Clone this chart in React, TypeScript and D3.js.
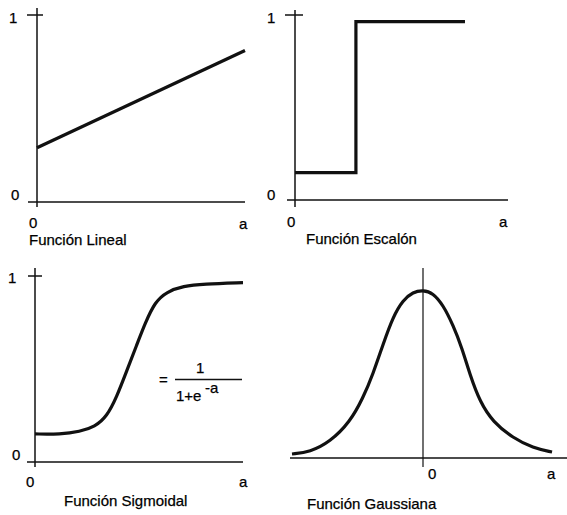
import React from "react";
import * as d3 from "d3";

// Función Lineal
const linealX = [0, 1];
const linealY = [0.29, 0.81];

// Función Escalón (step after)
const escalonX = [0, 0.286, 0.798];
const escalonY = [0.148, 0.964, 0.964];

// Función Sigmoidal
const sigmoidX = [0, 0.12, 0.216, 0.288, 0.345, 0.393, 0.441, 0.489, 0.529, 0.577, 0.633, 0.713, 0.809, 1.0];
const sigmoidY = [0.151, 0.149, 0.163, 0.19, 0.244, 0.35, 0.49, 0.629, 0.745, 0.861, 0.915, 0.946, 0.957, 0.964];

// Función Gaussiana
const gaussX = [-1, -0.863, -0.71, -0.557, -0.458, -0.382, -0.305, -0.229, -0.153, -0.076, 0, 0.076, 0.153, 0.229, 0.298, 0.359, 0.435, 0.534, 0.687, 0.84, 0.985];
const gaussY = [0.022, 0.033, 0.088, 0.198, 0.33, 0.46, 0.625, 0.776, 0.868, 0.912, 0.923, 0.907, 0.841, 0.731, 0.604, 0.456, 0.308, 0.198, 0.11, 0.055, 0.033];

const captions = ["Función Lineal", "Función Escalón", "Función Sigmoidal", "Función Gaussiana"];
const yTickLabels = ["0", "1"];
const xLabels = ["0", "a"];

const FONT = "'Liberation Sans', Arial, sans-serif";
const zip = (xs: number[], ys: number[]) => xs.map((x, i) => [x, ys[i]] as [number, number]);

const Txt = ({ x, y, children, size = 15 }: any) => (
  <text x={x} y={y} fontFamily={FONT} fontSize={size} fill="#000" stroke="#000" strokeWidth={0.25}>
    {children}
  </text>
);

export default function App() {
  // panel scales
  const x1 = d3.scaleLinear().domain([0, 1]).range([37, 245]);
  const y1 = d3.scaleLinear().domain([0, 1]).range([202, 15]);
  const x2 = d3.scaleLinear().domain([0, 1]).range([295, 508]);
  const y2 = d3.scaleLinear().domain([0, 1]).range([200, 15]);
  const x3 = d3.scaleLinear().domain([0, 1]).range([35, 243]);
  const y3 = d3.scaleLinear().domain([0, 1]).range([462, 276]);
  const x4 = d3.scaleLinear().domain([-1, 1]).range([292, 554]);
  const y4 = d3.scaleLinear().domain([0, 1]).range([458, 276]);

  const line1 = d3.line().x((d) => x1(d[0])).y((d) => y1(d[1]));
  const line2 = d3.line().x((d) => x2(d[0])).y((d) => y2(d[1])).curve(d3.curveStepAfter);
  const line3 = d3.line().x((d) => x3(d[0])).y((d) => y3(d[1])).curve(d3.curveBasis);
  const line4 = d3.line().x((d) => x4(d[0])).y((d) => y4(d[1])).curve(d3.curveBasis);

  const axis = { stroke: "#111", strokeWidth: 1.5, fill: "none" };
  const curve = { stroke: "#111", strokeWidth: 3.2, fill: "none", strokeLinejoin: "round" as const };

  return (
    <svg width={567} height={515} style={{ position: "absolute", left: 0, top: 0, background: "#fff" }}>
      {/* Lineal */}
      <line x1={28} x2={x1(1)} y1={y1(0)} y2={y1(0)} {...axis} />
      <line x1={x1(0)} x2={x1(0)} y1={8} y2={207} {...axis} />
      <line x1={27} x2={43} y1={y1(1)} y2={y1(1)} {...axis} />
      <path d={line1(zip(linealX, linealY)) || ""} {...curve} />
      <Txt x={9} y={23}>{yTickLabels[1]}</Txt>
      <Txt x={11} y={200}>{yTickLabels[0]}</Txt>
      <Txt x={29} y={228}>{xLabels[0]}</Txt>
      <Txt x={239} y={229}>{xLabels[1]}</Txt>
      <Txt x={29} y={245}>{captions[0]}</Txt>

      {/* Escalón */}
      <line x1={287} x2={x2(1)} y1={y2(0)} y2={y2(0)} {...axis} />
      <line x1={x2(0)} x2={x2(0)} y1={10} y2={207} {...axis} />
      <line x1={285} x2={303} y1={y2(1)} y2={y2(1)} {...axis} />
      <path d={line2(zip(escalonX, escalonY)) || ""} {...curve} strokeLinejoin="miter" />
      <Txt x={267} y={23}>{yTickLabels[1]}</Txt>
      <Txt x={267} y={200}>{yTickLabels[0]}</Txt>
      <Txt x={287} y={227}>{xLabels[0]}</Txt>
      <Txt x={499} y={227}>{xLabels[1]}</Txt>
      <Txt x={306} y={244}>{captions[1]}</Txt>

      {/* Sigmoidal */}
      <line x1={27} x2={x3(1)} y1={y3(0)} y2={y3(0)} {...axis} />
      <line x1={x3(0)} x2={x3(0)} y1={268} y2={467} {...axis} />
      <line x1={28} x2={42} y1={y3(1)} y2={y3(1)} {...axis} />
      <path d={line3(zip(sigmoidX, sigmoidY)) || ""} {...curve} />
      <Txt x={8} y={283}>{yTickLabels[1]}</Txt>
      <Txt x={12} y={460}>{yTickLabels[0]}</Txt>
      <Txt x={26} y={487}>{xLabels[0]}</Txt>
      <Txt x={239} y={487}>{xLabels[1]}</Txt>
      <Txt x={64} y={506}>{captions[2]}</Txt>
      {/* formula */}
      <Txt x={159} y={385}>=</Txt>
      <line x1={175} x2={242} y1={379.5} y2={379.5} stroke="#111" strokeWidth={1.5} />
      <Txt x={196} y={373}>1</Txt>
      <Txt x={176} y={401}>1+e</Txt>
      <Txt x={205} y={393}>-a</Txt>

      {/* Gaussiana */}
      <line x1={290} x2={567} y1={y4(0)} y2={y4(0)} {...axis} />
      <line x1={x4(0)} x2={x4(0)} y1={268} y2={467} stroke="#111" strokeWidth={1.2} />
      <path d={line4(zip(gaussX, gaussY)) || ""} {...curve} />
      <Txt x={428} y={479}>{xLabels[0]}</Txt>
      <Txt x={547} y={479}>{xLabels[1]}</Txt>
      <Txt x={307} y={509}>{captions[3]}</Txt>
    </svg>
  );
}
